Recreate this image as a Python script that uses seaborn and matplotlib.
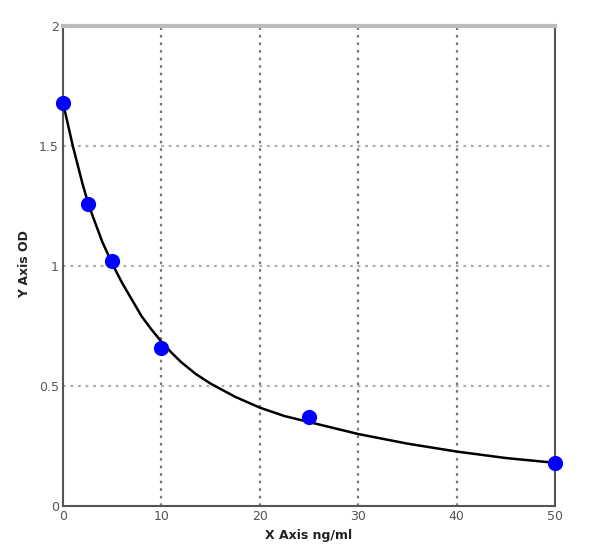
import matplotlib
matplotlib.use("Agg")
import matplotlib.pyplot as plt
import seaborn as sns
import pandas as pd

# Standard points
conc = [0, 2.5, 5, 10, 25, 50]
od = [1.68, 1.26, 1.02, 0.66, 0.37, 0.18]

# Fitted curve
curve_x = [0, 0.5, 1, 1.5, 2, 2.5, 3, 4, 5, 6, 7, 8, 9, 10, 11, 12, 13.5, 15,
           17.5, 20, 22.5, 25, 27.5, 30, 35, 40, 45, 50]
curve_y = [1.68, 1.59, 1.50, 1.42, 1.34, 1.27, 1.21, 1.10, 1.01, 0.93, 0.86,
           0.79, 0.735, 0.685, 0.64, 0.60, 0.55, 0.51, 0.455, 0.41, 0.375,
           0.35, 0.325, 0.30, 0.26, 0.227, 0.20, 0.18]

xticks = [0, 10, 20, 30, 40, 50]
yticks = [0, 0.5, 1, 1.5, 2]
ytick_labels = ["0", "0.5", "1", "1.5", "2"]

sns.set_style("white")
plt.rcParams['font.family'] = ['DejaVu Sans']

fig = plt.figure(figsize=(6.0, 5.54), dpi=100)
ax = fig.add_axes([0.105, 0.0866, 0.82, 0.8664])

pts = pd.DataFrame({"x": conc, "y": od})
cur = pd.DataFrame({"x": curve_x, "y": curve_y})

sns.lineplot(data=cur, x="x", y="y", ax=ax, color="black", linewidth=1.8, zorder=3)
sns.scatterplot(data=pts, x="x", y="y", ax=ax, color="#0000ff", s=120,
                edgecolor="#0000ff", linewidth=0, zorder=4, clip_on=False)

ax.set_xlim(0, 50)
ax.set_ylim(0, 2)
ax.set_xticks(xticks)
ax.set_xticklabels([str(t) for t in xticks])
ax.set_yticks(yticks)
ax.set_yticklabels(ytick_labels)

for v in [10, 20, 30, 40]:
    ax.axvline(v, color="#777777", linestyle=(0, (1.2, 2.2)), linewidth=1.6, zorder=1)
for v in [0.5, 1, 1.5]:
    ax.axhline(v, color="#aaaaaa", linestyle=(0, (1.2, 2.2)), linewidth=1.6, zorder=1)

ax.tick_params(axis="both", length=0, labelsize=9, labelcolor="#555555", pad=3)
for side in ["left", "bottom", "right"]:
    ax.spines[side].set_color("#555555")
    ax.spines[side].set_linewidth(1.5)
ax.spines["top"].set_color("#bbbbbb")
ax.spines["top"].set_linewidth(3)

ax.set_xlabel("X Axis ng/ml", fontsize=9, fontweight="bold", color="#222222", labelpad=4)
ax.set_ylabel("Y Axis OD", fontsize=9, fontweight="bold", color="#222222", labelpad=0)
ax.yaxis.set_label_coords(-0.065, 0.505)

fig.savefig("out.png", dpi=100, facecolor="white")
